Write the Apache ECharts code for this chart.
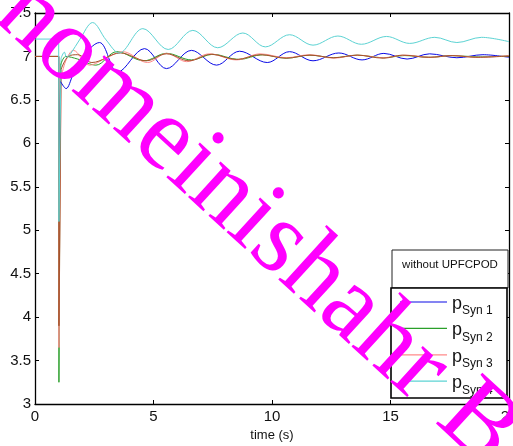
<!DOCTYPE html>
<html><head><meta charset="utf-8">
<script src="https://cdn.jsdelivr.net/npm/echarts@6/dist/echarts.min.js"></script>
<style>html,body{margin:0;padding:0;background:#fff;overflow:hidden}#c{width:513px;height:446px}</style>
</head><body><div id="c"></div>
<script>
// ---- data ----
var xTicks = [0, 5, 10, 15, 20];
var yTicks = [3, 3.5, 4, 4.5, 5, 5.5, 6, 6.5, 7, 7.5];
var names = ['Syn 1', 'Syn 2', 'Syn 3', 'Syn 4'];

// pre-fault + fault drop (unsmoothed)
var blueFaultT = [0, 1.0, 1.01, 1.08];
var blueFaultV = [7.0, 7.0, 5.6, 6.71];
var greenFaultT = [0, 1.0, 1.01, 1.08];
var greenFaultV = [7.0, 7.0, 3.25, 6.9];
var redFaultT = [0, 1.0, 1.01, 1.1];
var redFaultV = [7.0, 7.0, 3.65, 6.75];
var cyanFaultT = [0, 1.0, 1.01, 1.1];
var cyanFaultV = [7.2, 7.2, 5.1, 6.98];
var brownFaultT = [0, 1.0, 1.01, 1.1];
var brownFaultV = [7.0, 7.0, 3.9, 6.85];

// post-fault oscillations
var blueT = [1.08, 1.31, 1.6, 1.9, 2.72, 3.49, 4.62, 5.55, 6.6, 7.66, 8.63, 9.8, 10.74, 11.73, 12.82, 13.8, 14.72, 15.7, 16.65, 17.8, 18.9, 20];
var blueV = [6.71, 6.63, 6.79, 6.96, 7.16, 6.82, 7.09, 6.86, 7.07, 6.90, 7.06, 6.93, 7.055, 6.95, 7.04, 6.96, 7.035, 6.97, 7.03, 6.985, 7.02, 6.99];
var greenT = [1.08, 1.3, 1.8, 2.57, 3.45, 4.6, 5.55, 6.6, 7.5, 8.6, 9.6, 10.6, 11.6, 12.6, 13.6, 14.7, 15.6, 16.7, 17.6, 18.7, 20];
var greenV = [6.9, 7.0, 6.97, 6.90, 7.055, 6.95, 7.036, 6.96, 7.025, 6.965, 7.02, 6.98, 7.015, 6.985, 7.015, 6.985, 7.01, 6.99, 7.01, 6.995, 7.005];
var redT = [1.1, 1.3, 1.62, 2.3, 3.0, 3.7, 4.75, 5.55, 6.4, 7.36, 8.5, 9.5, 10.6, 11.6, 12.6, 13.6, 14.7, 15.6, 16.7, 17.6, 18.7, 20];
var redV = [6.75, 6.95, 7.07, 6.90, 6.98, 7.055, 6.93, 7.035, 6.94, 7.03, 6.96, 7.03, 6.985, 7.02, 6.98, 7.015, 6.985, 7.015, 6.99, 7.01, 6.99, 7.01];
var cyanT = [1.1, 1.24, 1.33, 1.5, 1.9, 2.43, 3.0, 3.55, 4.55, 5.62, 6.66, 7.71, 8.77, 9.72, 10.74, 11.73, 12.78, 13.77, 14.83, 15.81, 16.87, 17.8, 18.84, 20];
var cyanV = [6.98, 7.05, 6.99, 7.03, 7.2, 7.39, 7.19, 7.04, 7.32, 7.08, 7.30, 7.10, 7.27, 7.11, 7.25, 7.13, 7.235, 7.14, 7.23, 7.15, 7.22, 7.16, 7.22, 7.17];
var brownT = [1.1, 1.4, 1.8, 2.4, 3.6, 4.7, 5.55, 6.5, 7.45, 8.5, 9.5, 10.6, 11.6, 12.6, 13.6, 14.7, 15.5, 16.6, 17.6, 18.6, 20];
var brownV = [6.85, 7.0, 7.02, 6.93, 7.04, 6.95, 7.03, 6.95, 7.025, 6.965, 7.02, 6.98, 7.015, 6.985, 7.015, 6.98, 7.015, 6.99, 7.01, 6.99, 7.005];

// ---- build ----
function zip(t, v) { return t.map(function (x, i) { return [x, v[i]]; }); }
var C = { blue: '#0a0ae6', green: '#2a9f2a', red: '#ff8a8a', cyan: '#5cd3d3', brown: '#a5522a' };
function line(name, t, v, color, smooth, z) {
  return { name: name, type: 'line', data: zip(t, v), showSymbol: false, symbol: 'none',
    smooth: smooth ? 0.35 : false, lineStyle: { color: color, width: 1 }, itemStyle: { color: color },
    z: z, animation: false, silent: true };
}
var series = [
  line('f1', blueFaultT, blueFaultV, C.blue, false, 2),
  line('f2', greenFaultT, greenFaultV, C.green, false, 2),
  line('f3', redFaultT, redFaultV, C.red, false, 2),
  line('f5', brownFaultT, brownFaultV, C.brown, false, 2),
  line('f4', cyanFaultT, cyanFaultV, C.cyan, false, 2),
  line(names[0], blueT, blueV, C.blue, true, 2),
  line(names[1], greenT, greenV, C.green, true, 2),
  line(names[2], redT, redV, C.red, true, 2),
  line('Syn 5', brownT, brownV, C.brown, true, 2),
  line(names[3], cyanT, cyanV, C.cyan, true, 2)
];

var chart = echarts.init(document.getElementById('c'), null, { renderer: 'canvas', width: 513, height: 446 });
var font = 'Liberation Sans, Arial, sans-serif';
var axisBase = { min: 0, max: 20, interval: 5, type: 'value', splitLine: { show: false },
  axisLine: { show: true, onZero: false, lineStyle: { color: '#000', width: 1.3 } },
  axisTick: { show: true, inside: true, length: 4, lineStyle: { color: '#000' } } };
chart.setOption({
  animation: false,
  backgroundColor: '#fff',
  grid: { left: 35, right: 4, top: 13, bottom: 42, containLabel: false, outerBoundsMode: 'none' },
  xAxis: [
    Object.assign({}, axisBase, { position: 'bottom', name: 'time (s)', nameLocation: 'middle', nameGap: 23,
      nameTextStyle: { fontFamily: font, fontSize: 13, color: '#111' },
      axisLabel: { fontFamily: font, fontSize: 15, color: '#111', margin: 5, hideOverlap: false,
        formatter: function (v) { return xTicks.indexOf(v) >= 0 ? String(v) : ''; } } }),
    Object.assign({}, axisBase, { position: 'top', axisLabel: { show: false } })
  ],
  yAxis: [
    Object.assign({}, axisBase, { min: 3, max: 7.5, interval: 0.5, position: 'left',
      axisLabel: { fontFamily: font, fontSize: 15, color: '#111', margin: 4,
        formatter: function (v) { return yTicks.indexOf(v) >= 0 ? String(v) : ''; } } }),
    Object.assign({}, axisBase, { min: 3, max: 7.5, interval: 0.5, position: 'right', axisLabel: { show: false } })
  ],
  legend: {
    data: names.map(function (n) { return { name: n, icon: 'rect' }; }),
    orient: 'vertical', left: 400, top: 295, padding: 0, itemWidth: 47, itemHeight: 1.2, itemGap: 4.4,
    formatter: function (n) { return '{p|p}{s|' + n + '}'; },
    textStyle: { fontFamily: font, color: '#111',
      rich: { p: { fontSize: 18, padding: [4, 0, 0, 0] }, s: { fontSize: 12, padding: [18, 0, 0, 0] } } },
    selectedMode: false, z: 20
  },
  graphic: [
    { type: 'rect', shape: { x: 392, y: 250, width: 116, height: 38 }, style: { fill: '#fff', stroke: '#222', lineWidth: 1 }, z: 10 },
    { type: 'text', x: 450, y: 265, style: { text: 'without UPFCPOD', font: '11.5px ' + font, fill: '#111', textAlign: 'center', textVerticalAlign: 'middle' }, z: 11 },
    { type: 'rect', shape: { x: 391, y: 288, width: 116, height: 110 }, style: { fill: '#fff', stroke: '#000', lineWidth: 1.6 }, z: 10 },
    { type: 'text', x: -45, y: -53, rotation: -0.74,
      style: { text: 'Khomeinishahr Branch', font: '105px "Liberation Serif", "DejaVu Serif", serif', fill: '#ff00ff',
        textAlign: 'left', textVerticalAlign: 'middle' }, z: 100 }
  ],
  series: series
});
</script></body></html>
